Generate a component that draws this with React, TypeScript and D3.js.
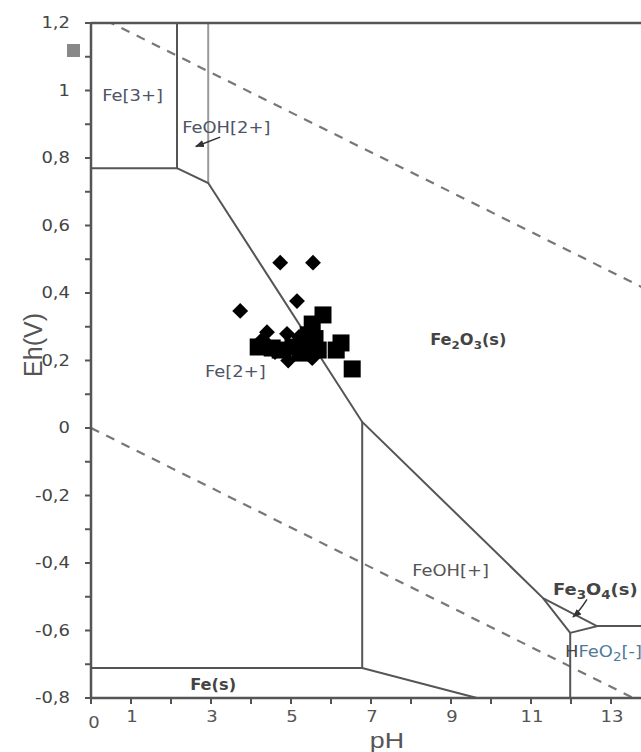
import React from "react";
import * as d3 from "d3";

const W = 641;
const H = 752;

// Pourbaix boundaries (pH, Eh)
const feIIIBoundary: [number, number][] = [[2.15, 1.2], [2.15, 0.77], [0, 0.77]];
const feohIIBoundary: [number, number][] = [[2.93, 1.2], [2.93, 0.726]];
const ferricLine: [number, number][] = [[2.15, 0.77], [2.93, 0.726], [6.78, 0.018], [11.3, -0.504], [11.98, -0.607]];
const feohPlusLeft: [number, number][] = [[6.78, 0.018], [6.78, -0.711]];
const feSolidLine: [number, number][] = [[0, -0.711], [6.78, -0.711], [9.65, -0.8]];
const fe3o4Line: [number, number][] = [[11.3, -0.504], [12.65, -0.587], [11.98, -0.607]];
const hfeo2Top: [number, number][] = [[12.65, -0.587], [14, -0.587]];
const hfeo2Left: [number, number][] = [[11.98, -0.607], [11.98, -0.8]];

// water stability lines
const waterUpper: [number, number][] = [[0, 1.23], [14, 1.23 - 0.059 * 14]];
const waterLower: [number, number][] = [[0, 0], [14, -0.059 * 14]];

// samples
const diamondPH = [4.73, 5.55, 5.15, 3.73, 4.4, 4.9, 4.93, 5.53, 4.43, 4.28, 4.6, 5.2];
const diamondEh = [0.49, 0.49, 0.376, 0.347, 0.284, 0.279, 0.2, 0.207, 0.246, 0.262, 0.225, 0.27];
const squarePH = [5.8, 5.53, 5.43, 6.25, 6.13, 6.53, 4.53, 5.05, 5.4, 5.68, 5.23, 4.73, 4.18, 5.6];
const squareEh = [0.335, 0.308, 0.276, 0.252, 0.231, 0.175, 0.237, 0.24, 0.243, 0.231, 0.222, 0.231, 0.24, 0.265];

const yMajorTicks = [1.2, 1.0, 0.8, 0.6, 0.4, 0.2, 0, -0.2, -0.4, -0.6, -0.8];
const yTickLabels = ["1,2", "1", "0,8", "0,6", "0,4", "0,2", "0", "-0,2", "-0,4", "-0,6", "-0,8"];
const yMinorTicks = [1.1, 0.9, 0.7, 0.5, 0.3, 0.1, -0.1, -0.3, -0.5, -0.7];
const xTicks = d3.range(0, 15);
const xTickLabelValues = [0, 1, 3, 5, 7, 9, 11, 13];

const x = d3.scaleLinear().domain([0, 14]).range([91, 91 + 14 * 40]);
const y = d3.scaleLinear().domain([-0.8, 1.2]).range([698, 23]);

const line = d3
  .line<[number, number]>()
  .x((d) => x(d[0]))
  .y((d) => y(d[1]));

const FONT = "'DejaVu Sans', Verdana, sans-serif";

function T({
  px,
  py,
  sx = 1.12,
  anchor = "start",
  size = 16,
  fill = "#4e5466",
  weight = "normal",
  family = FONT,
  children,
}: any) {
  return (
    <text
      transform={`translate(${px},${py}) scale(${sx},1)`}
      textAnchor={anchor}
      fontSize={size}
      fill={fill}
      fontWeight={weight}
      fontFamily={family}
    >
      {children}
    </text>
  );
}

export default function App() {
  const diamond = d3.symbol().type(d3.symbolDiamond2).size(160)();
  return (
    <svg
      width={W}
      height={H}
      viewBox={`0 0 ${W} ${H}`}
      style={{ position: "absolute", left: 0, top: 0, background: "#fff" }}
    >
      <defs>
        <marker id="ah" viewBox="0 0 10 10" refX="9" refY="5" markerWidth="6" markerHeight="6" orient="auto-start-reverse">
          <path d="M0,1 L10,5 L0,9 z" fill="#333" />
        </marker>
        <clipPath id="plot">
          <rect x={x(0)} y={y(1.2)} width={x(14) - x(0)} height={y(-0.8) - y(1.2)} />
        </clipPath>
      </defs>
      <rect width={W} height={H} fill="#fff" />

      {/* water lines */}
      <g clipPath="url(#plot)">
        <path d={line(waterUpper)!} stroke="#777" strokeWidth={2.2} strokeDasharray="9,8" fill="none" />
        <path d={line(waterLower)!} stroke="#777" strokeWidth={2.2} strokeDasharray="9,8" fill="none" />
      </g>

      {/* boundaries */}
      <g fill="none" strokeWidth={2} stroke="#555">
        <path d={line(feIIIBoundary)!} />
        <path d={line(feohIIBoundary)!} stroke="#9a9a9a" />
        <path d={line(ferricLine)!} />
        <path d={line(feohPlusLeft)!} />
        <path d={line(feSolidLine)!} />
        <path d={line(fe3o4Line)!} />
        <path d={line(hfeo2Top)!} />
        <path d={line(hfeo2Left)!} />
      </g>

      {/* frame */}
      <g stroke="#555" strokeWidth={2.5} fill="none">
        <line x1={x(0)} x2={W} y1={y(1.2)} y2={y(1.2)} />
        <line x1={x(0)} x2={x(0)} y1={y(1.2)} y2={y(-0.8)} />
        <line x1={x(0)} x2={W} y1={y(-0.8)} y2={y(-0.8)} />
      </g>

      {/* y ticks */}
      <g stroke="#555" strokeWidth={2}>
        {yMajorTicks.concat(yMinorTicks).map((v) => (
          <line key={v} x1={x(0) - 6} x2={x(0)} y1={y(v)} y2={y(v)} />
        ))}
      </g>
      {yMajorTicks.map((v, i) => (
        <T key={v} px={70} py={y(v) + 5} anchor="end" size={15} sx={1.2} fill="#444">
          {yTickLabels[i]}
        </T>
      ))}

      {/* x ticks */}
      <g stroke="#555" strokeWidth={2}>
        {xTicks.map((v) => (
          <line key={v} x1={x(v)} x2={x(v)} y1={y(-0.8)} y2={y(-0.8) + 6} />
        ))}
      </g>
      {xTickLabelValues.map((v) => (
        <T key={v} px={x(v) + (v === 0 ? 3 : 1)} py={v === 0 ? 728 : 722} anchor="middle" size={15} sx={1.2} fill="#555">
          {String(v)}
        </T>
      ))}

      {/* axis titles */}
      <T px={x(7.4)} py={748} anchor="middle" size={22} sx={1.22} fill="#555" family="'Liberation Sans', Arial, sans-serif">
        pH
      </T>
      <text
        transform={`translate(42,${345}) rotate(-90)`}
        textAnchor="middle"
        fontSize={25}
        fill="#555"
        fontFamily="'Liberation Sans', Arial, sans-serif"
      >
        Eh(V)
      </text>

      {/* stray legend square */}
      <rect x={67} y={44} width={13} height={13} fill="#888" />

      {/* region labels */}
      <T px={x(0.28)} py={y(0.97)}>Fe[3+]</T>
      <T px={x(2.28)} py={y(0.874)}>FeOH[2+]</T>
      <T px={x(2.85)} py={y(0.151)}>Fe[2+]</T>
      <T px={x(8.48)} py={y(0.246)} size={15} sx={1.08} weight="bold" fill="#444">
        Fe<tspan fontSize={11} dy={4}>2</tspan>
        <tspan dy={-4}>O</tspan>
        <tspan fontSize={11} dy={4}>3</tspan>
        <tspan dy={-4}>(s)</tspan>
      </T>
      <T px={x(8.03)} py={y(-0.439)} fill="#555">FeOH[+]</T>
      <T px={x(11.55)} py={y(-0.495)} size={16} sx={1.12} weight="bold" fill="#444">
        Fe<tspan fontSize={12} dy={4}>3</tspan>
        <tspan dy={-4}>O</tspan>
        <tspan fontSize={12} dy={4}>4</tspan>
        <tspan dy={-4}>(s)</tspan>
      </T>
      <T px={x(11.85)} py={y(-0.679)} size={16} sx={1.12} fill="#4f7a99">
        <tspan fill="#444">H</tspan>FeO<tspan fontSize={12} dy={4}>2</tspan>
        <tspan dy={-4}>[-]</tspan>
      </T>
      <T px={x(2.48)} py={y(-0.776)} size={15} sx={1.08} weight="bold" fill="#444">Fe(s)</T>

      {/* arrows */}
      <path d={`M${x(3.23)},${y(0.862)} L${x(2.62)},${y(0.834)}`} stroke="#333" strokeWidth={1.5} fill="none" markerEnd="url(#ah)" />
      <path d={`M${x(12.4)},${y(-0.508)} Q${x(12.2)},${y(-0.545)} ${x(12.05)},${y(-0.56)}`} stroke="#333" strokeWidth={1.5} fill="none" markerEnd="url(#ah)" />

      {/* samples */}
      {diamondPH.map((p, i) => (
        <path key={"d" + i} d={diamond!} transform={`translate(${x(p)},${y(diamondEh[i])})`} fill="#000" />
      ))}
      {squarePH.map((p, i) => (
        <rect key={"s" + i} x={x(p) - 8.5} y={y(squareEh[i]) - 8.5} width={17} height={17} fill="#000" />
      ))}
    </svg>
  );
}
